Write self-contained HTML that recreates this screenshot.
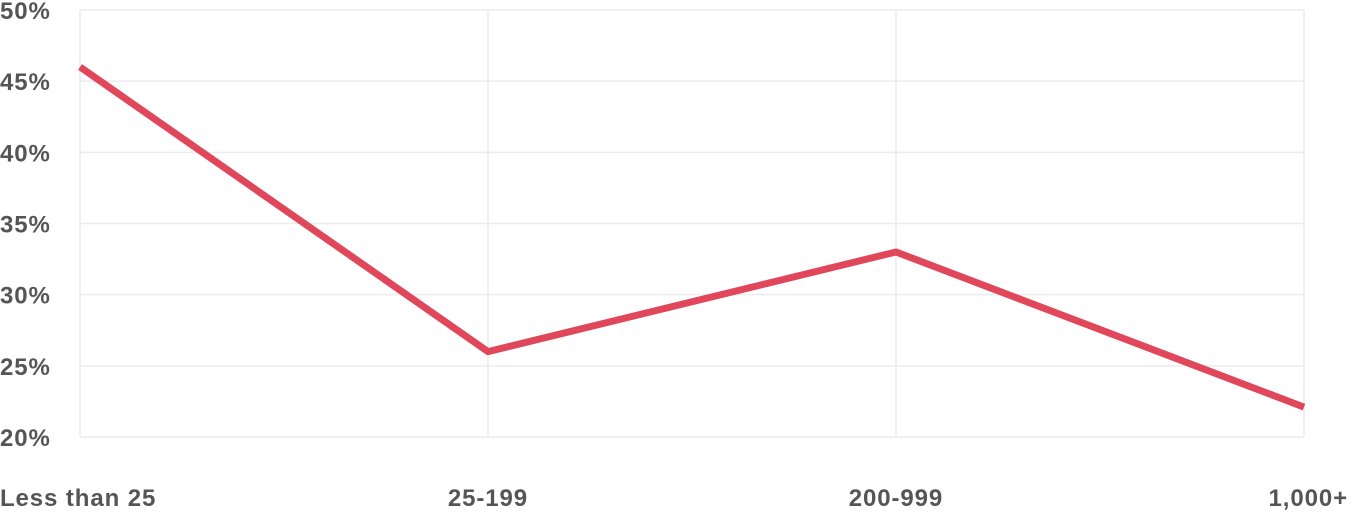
<!DOCTYPE html>
<html><head><meta charset="utf-8"><style>
body{margin:0;background:#fff;}
svg{display:block;font-family:"Liberation Sans",sans-serif;}
text{font-weight:bold;letter-spacing:0.9px;}
</style></head><body>
<svg id="chart" width="1348" height="513" viewBox="0 0 1348 513"></svg>
<script>
const categories=["Less than 25","25-199","200-999","1,000+"];
const values=[46,26,33,22.1];
const yTicks=[20,25,30,35,40,45,50];
const yTickLabels=["20%","25%","30%","35%","40%","45%","50%"];
const svg=document.getElementById('chart');
const NS='http://www.w3.org/2000/svg';
const x0=80,x1=1304,yTop=10,yBot=437,yMin=20,yMax=50;
const xs=i=>x0+(x1-x0)*i/(categories.length-1);
const ys=v=>yBot-(v-yMin)/(yMax-yMin)*(yBot-yTop);
function mk(t,a){const e=document.createElementNS(NS,t);for(const k in a)e.setAttribute(k,a[k]);svg.appendChild(e);return e;}
yTicks.forEach((t,i)=>{
 const l=mk('line',{x1:x0,x2:x1,y1:ys(t),y2:ys(t),stroke:'#ececec','stroke-width':1.5});
 
 
 const tx=mk('text',{x:0,y:ys(t)+9,'font-size':24,fill:'#555'});
 tx.textContent=yTickLabels[i];
 
 
});
categories.forEach((c,i)=>{
 const l=mk('line',{x1:xs(i),x2:xs(i),y1:yTop,y2:yBot,stroke:'#ececec','stroke-width':1.5});
 
 
 const anchor=i===0?'start':(i===categories.length-1?'end':'middle');
 const xx=i===0?0:(i===categories.length-1?1348:xs(i));
 const tx=mk('text',{x:xx,y:506,'font-size':24,fill:'#555','text-anchor':anchor});
 tx.textContent=c;
 
 
});
const p=mk('polyline',{points:values.map((v,i)=>xs(i)+','+ys(v)).join(' '),fill:'none',stroke:'#e0475b','stroke-width':7,'stroke-linejoin':'round'});


</script>
</body></html>
